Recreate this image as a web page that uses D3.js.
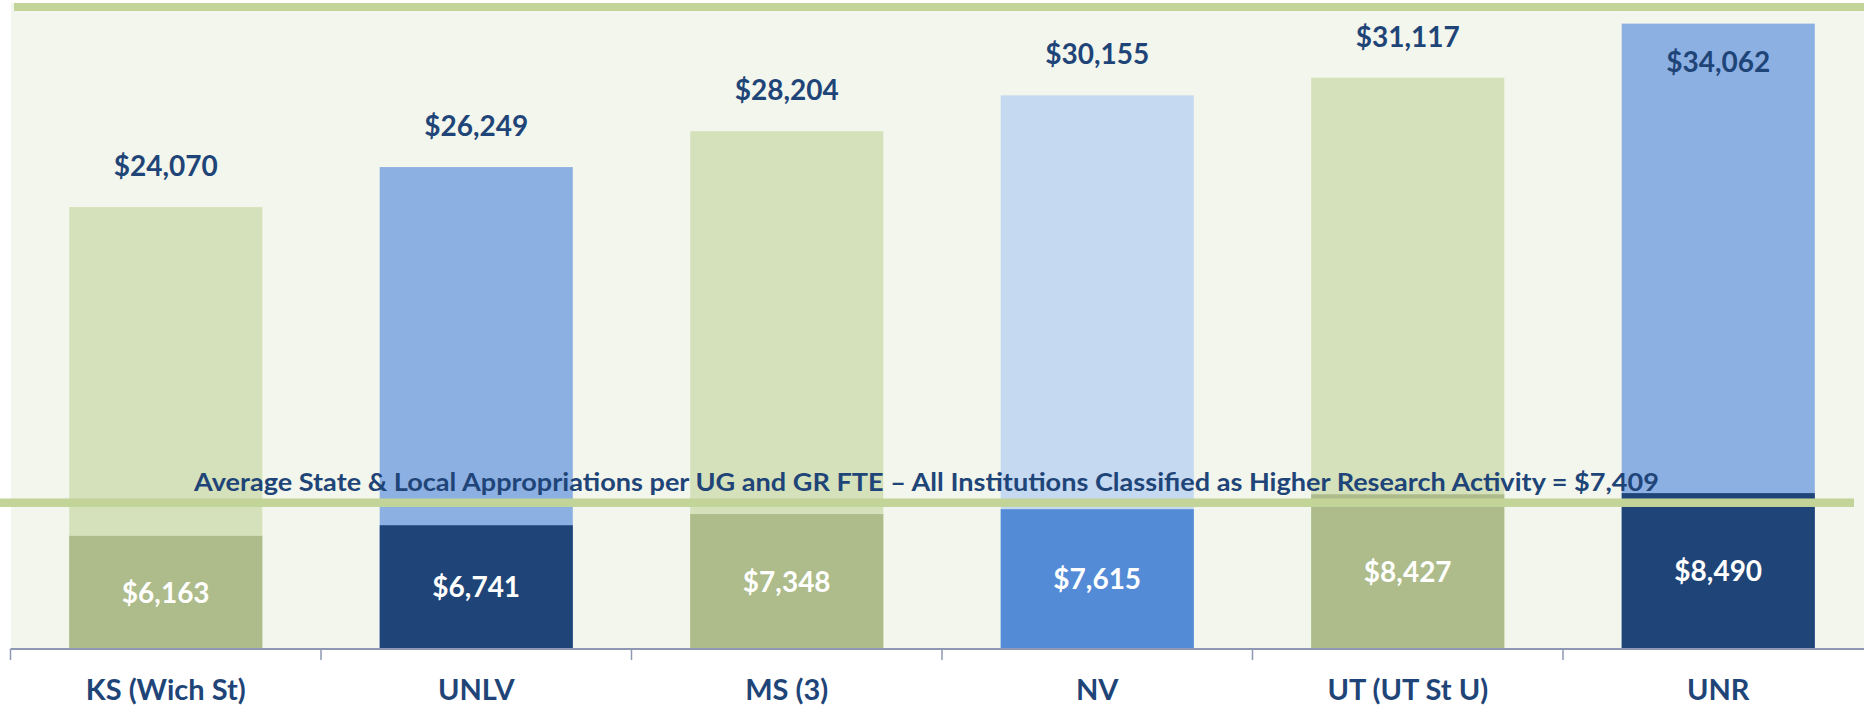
<!DOCTYPE html>
<html>
<head>
<meta charset="utf-8">
<script src="https://cdn.jsdelivr.net/npm/d3@7"></script>
<style>
  html, body { margin: 0; padding: 0; background: #ffffff; }
  svg { display: block; }
  text { font-family: Lato, "Open Sans", sans-serif; font-weight: 700; }
</style>
</head>
<body>
<svg id="chart" width="1864" height="706"></svg>
<script>
// ---- data ----
const categories = ["KS (Wich St)", "UNLV", "MS (3)", "NV", "UT (UT St U)", "UNR"];
const totalValues = [24070, 26249, 28204, 30155, 31117, 34062];
const approValues = [6163, 6741, 7348, 7615, 8427, 8490];
const averageValue = 7409;
const averageLabel = "Average State & Local Appropriations per UG and GR FTE \u2013 All Institutions Classified as Higher Research Activity = $7,409";
const backColors = ["#d5e1bb", "#8db0e3", "#d5e1bb", "#c5d9f1", "#d5e1bb", "#8db0e3"];
const frontColors = ["#adbc8a", "#1f4578", "#adbc8a", "#548bd7", "#adbc8a", "#1f4578"];

// ---- layout ----
const W = 1864, H = 706;
const baseY = 649;
const svg = d3.select("#chart");
const fmt = v => "$" + d3.format(",")(v);

const x = d3.scaleBand().domain(categories).range([10.5, 1873.5])
  .paddingInner(0.378).paddingOuter(0.189);
const y = d3.scaleLinear().domain([0, 35000]).range([baseY, baseY - 35000 * 0.01836]);

// plot background
svg.append("rect").attr("x", 11).attr("y", 3).attr("width", W - 11).attr("height", baseY - 3)
  .attr("fill", "#f3f6ec");
// top green band
svg.append("rect").attr("x", 14).attr("y", 3).attr("width", W - 14).attr("height", 8)
  .attr("fill", "#c2d498");

const data = categories.map((c, i) => ({ c, t: totalValues[i], a: approValues[i], i }));

// back bars
svg.append("g").selectAll("rect").data(data).join("rect")
  .attr("x", d => x(d.c)).attr("width", x.bandwidth())
  .attr("y", d => y(d.t)).attr("height", d => y(0) - y(d.t))
  .attr("fill", d => backColors[d.i]);

// front bars
svg.append("g").selectAll("rect").data(data).join("rect")
  .attr("x", d => x(d.c)).attr("width", x.bandwidth())
  .attr("y", d => y(d.a)).attr("height", d => y(0) - y(d.a))
  .attr("fill", d => frontColors[d.i]);

// back labels
svg.append("g").selectAll("text").data(data).join("text")
  .attr("x", d => x(d.c) + x.bandwidth() / 2)
  .attr("y", d => (y(d.t) - 31 - 20 < 3) ? y(d.t) + 48 : y(d.t) - 31)
  .attr("text-anchor", "middle").attr("font-size", 28).attr("fill", "#1f4578")
  .text(d => fmt(d.t));

// front labels
svg.append("g").selectAll("text").data(data).join("text")
  .attr("x", d => x(d.c) + x.bandwidth() / 2)
  .attr("y", d => (y(d.a) + y(0)) / 2)
  .attr("dy", "0.36em")
  .attr("text-anchor", "middle").attr("font-size", 28).attr("fill", "#ffffff")
  .text(d => fmt(d.a));

// average line + label
svg.append("rect").attr("x", 0).attr("y", y(averageValue) - 14.5).attr("width", 1854).attr("height", 8.5)
  .attr("fill", "#c2d498");
svg.append("text")
  .attr("x", 926.5).attr("y", y(averageValue) - 22)
  .attr("text-anchor", "middle").attr("font-size", 25).attr("fill", "#1f4578")
  .attr("textLength", 1465).attr("lengthAdjust", "spacingAndGlyphs")
  .text(averageLabel);

// axis
const axisG = svg.append("g").attr("transform", `translate(0,${baseY})`);
axisG.call(d3.axisBottom(x).tickSize(0).tickPadding(0));
axisG.select(".domain").attr("d", `M${x.range()[0]},0H${W}`)
  .attr("stroke", "#8e98b2").attr("stroke-width", 2);
axisG.selectAll(".tick text")
  .attr("y", 51).attr("dy", 0)
  .attr("font-size", 29).attr("font-family", "Lato, sans-serif").attr("font-weight", 700)
  .attr("fill", "#1f4578");
// boundary tick marks between categories
const bounds = categories.map(c => x(c) - x.step() * x.paddingOuter());
axisG.selectAll("line.bound").data(bounds).join("line").attr("class", "bound")
  .attr("x1", d => d).attr("x2", d => d).attr("y1", 0).attr("y2", 11)
  .attr("stroke", "#8e98b2").attr("stroke-width", 1.5);
</script>
</body>
</html>
